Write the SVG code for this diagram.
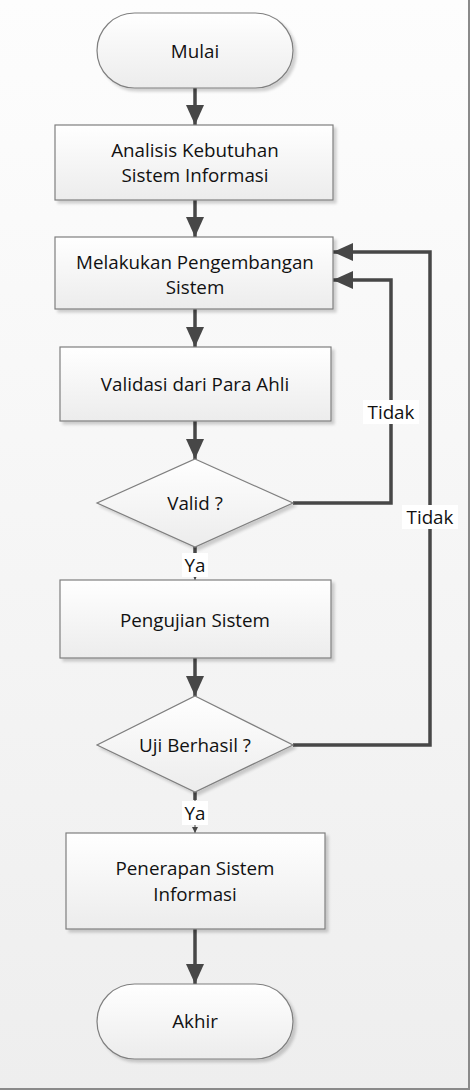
<svg xmlns="http://www.w3.org/2000/svg" width="474" height="1092" viewBox="0 0 474 1092">
<defs>
<linearGradient id="bg" x1="0" y1="0" x2="0" y2="1">
<stop offset="0" stop-color="#fdfdfd"/>
<stop offset="1" stop-color="#eeeeee"/>
</linearGradient>
<linearGradient id="fill" x1="0" y1="0" x2="0" y2="1">
<stop offset="0" stop-color="#ffffff"/>
<stop offset="1" stop-color="#ececec"/>
</linearGradient>
<marker id="ah" viewBox="0 0 20 18" refX="20" refY="9" markerWidth="20" markerHeight="18" markerUnits="userSpaceOnUse" orient="auto">
<path d="M0,0 L20,9 L0,18 Z" fill="#474747"/>
</marker>
<marker id="ahs" viewBox="0 0 6 6" refX="6" refY="3" markerWidth="6" markerHeight="6" markerUnits="userSpaceOnUse" orient="auto">
<path d="M0,0 L6,3 L0,6 Z" fill="#474747"/>
</marker>
<filter id="sh" x="-5%" y="-5%" width="115%" height="120%">
<feGaussianBlur in="SourceAlpha" stdDeviation="1.5"/>
<feOffset dx="3" dy="3" result="o"/>
<feComponentTransfer><feFuncA type="linear" slope="0.18"/></feComponentTransfer>
<feMerge><feMergeNode/><feMergeNode in="SourceGraphic"/></feMerge>
</filter>
</defs>
<style>
.n{fill:url(#fill);stroke:#7f7f7f;stroke-width:1.2;filter:url(#sh)}
.t{font-family:"Open Sans","Noto Sans",sans-serif;font-size:18.8px;fill:#111111;text-anchor:middle;dominant-baseline:central}
.c{fill:none;stroke:#474747;stroke-width:3.5}
.lb{fill:#ffffff}
</style>
<rect x="0" y="0" width="469" height="1089" fill="url(#bg)"/>
<path d="M469,0 V1089 H0" fill="none" stroke="#8a8a8a" stroke-width="2"/>

<g id="connectors">
<line class="c" x1="195" y1="88" x2="195" y2="125" marker-end="url(#ah)"/>
<line class="c" x1="195" y1="200" x2="195" y2="237" marker-end="url(#ah)"/>
<line class="c" x1="195" y1="309" x2="195" y2="347" marker-end="url(#ah)"/>
<line class="c" x1="195" y1="421" x2="195" y2="459" marker-end="url(#ah)"/>
<line class="c" x1="195" y1="658" x2="195" y2="696" marker-end="url(#ah)"/>
<line class="c" x1="195" y1="929" x2="195" y2="984" marker-end="url(#ah)"/>
<line x1="195" y1="547" x2="195" y2="580" stroke="#474747" stroke-width="1" marker-end="url(#ahs)"/>
<line x1="195" y1="547" x2="195" y2="553" stroke="#474747" stroke-width="3.5"/>
<line x1="195" y1="792" x2="195" y2="833" stroke="#474747" stroke-width="1" marker-end="url(#ahs)"/>
<line x1="195" y1="792" x2="195" y2="800" stroke="#474747" stroke-width="3.5"/>
<path class="c" d="M293,503 H391 V280 H333" marker-end="url(#ah)"/>
<path class="c" d="M293,745 H430 V252 H333" marker-end="url(#ah)"/>
<rect class="lb" x="182" y="553" width="26" height="24"/>
<text class="t" x="195" y="565">Ya</text>
<rect class="lb" x="182" y="801" width="26" height="24"/>
<text class="t" x="195" y="813">Ya</text>
<rect class="lb" x="363" y="400" width="56" height="24"/>
<text class="t" x="391" y="412">Tidak</text>
<rect class="lb" x="402" y="505" width="56" height="24"/>
<text class="t" x="430" y="517">Tidak</text>
</g>

<g id="mulai">
<rect class="n" x="97" y="13" width="196" height="75" rx="37.5" ry="37.5"/>
<text class="t" x="195" y="51">Mulai</text>
</g>
<g id="analisis">
<rect class="n" x="55" y="125" width="278" height="75"/>
<text class="t" x="195" y="150">Analisis Kebutuhan</text>
<text class="t" x="195" y="175">Sistem Informasi</text>
</g>
<g id="pengembangan">
<rect class="n" x="55" y="237" width="278" height="72"/>
<text class="t" x="195" y="262">Melakukan Pengembangan</text>
<text class="t" x="195" y="287">Sistem</text>
</g>
<g id="validasi">
<rect class="n" x="60" y="347" width="271" height="74"/>
<text class="t" x="195" y="384">Validasi dari Para Ahli</text>
</g>
<g id="valid">
<path class="n" d="M195,459 L293,503 L195,547 L97,503 Z"/>
<text class="t" x="195" y="503">Valid ?</text>
</g>
<g id="pengujian">
<rect class="n" x="60" y="580" width="271" height="78"/>
<text class="t" x="195" y="620">Pengujian Sistem</text>
</g>
<g id="uji">
<path class="n" d="M195,696 L293,745 L195,792 L97,745 Z"/>
<text class="t" x="195" y="745">Uji Berhasil ?</text>
</g>
<g id="penerapan">
<rect class="n" x="66" y="833" width="259" height="96"/>
<text class="t" x="195" y="868">Penerapan Sistem</text>
<text class="t" x="195" y="894">Informasi</text>
</g>
<g id="akhir">
<rect class="n" x="97" y="984" width="196" height="75" rx="37.5" ry="37.5"/>
<text class="t" x="195" y="1021">Akhir</text>
</g>
</svg>
